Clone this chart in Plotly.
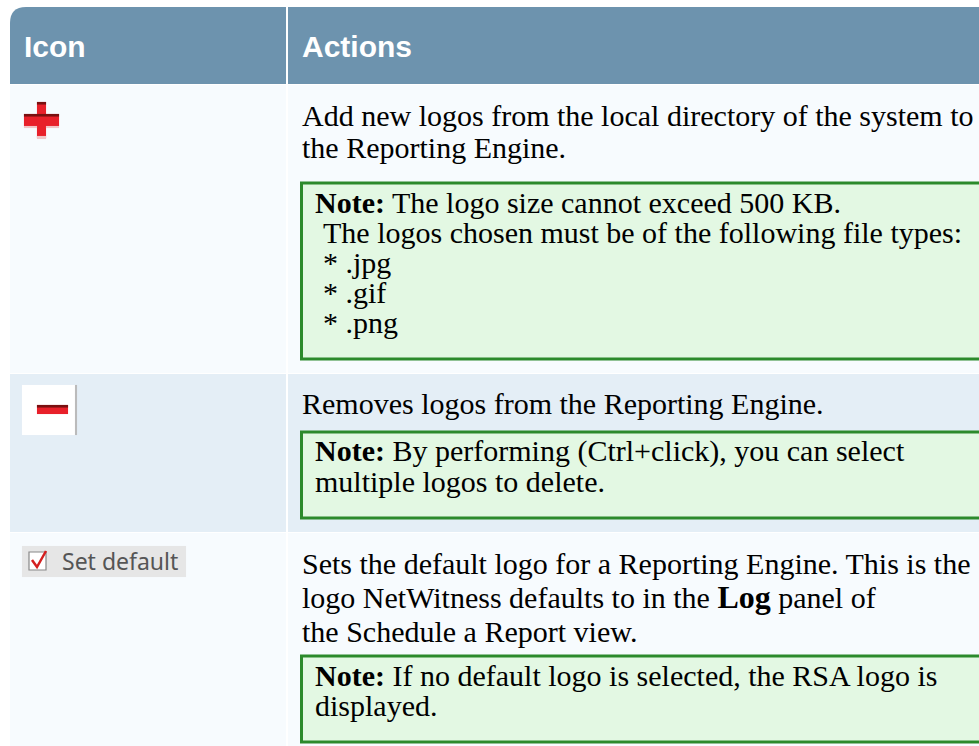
import plotly.graph_objects as go

# ---------------- content ----------------
headers = ["Icon", "Actions"]
row1_text = ["Add new logos from the local directory of the system to",
             "the Reporting Engine."]
row1_note = ["<b>Note:</b> The logo size cannot exceed 500 KB.",
             "The logos chosen must be of the following file types:",
             "* .jpg", "* .gif", "* .png"]
row2_text = ["Removes logos from the Reporting Engine."]
row2_note = ["<b>Note:</b> By performing (Ctrl+click), you can select",
             "multiple logos to delete."]
row3_text = ["Sets the default logo for a Reporting Engine. This is the",
             "logo NetWitness defaults to in the <span style='font-size:32px'><b>Log</b></span> panel of",
             "the Schedule a Report view."]
row3_note = ["<b>Note:</b> If no default logo is selected, the RSA logo is",
             "displayed."]
icon3_label = "Set default"

# ---------------- style ----------------
W, H = 979, 746
HEAD = "#6D93AE"
ROW_LIGHT = "#F7FBFE"
ROW_BLUE = "#E4EEF6"
NOTE_FILL = "#E3F8E3"
NOTE_LINE = "#2C8A2C"
SERIF = "Liberation Serif, Times New Roman, serif"
SANS = "Liberation Sans, Arial, sans-serif"
FS = 30

shapes = []
ann = []

def rect(x0, y0, x1, y1, fill, line=None, lw=0):
    shapes.append(dict(type="rect", xref="x", yref="y", x0=x0, y0=y0, x1=x1, y1=y1,
                       fillcolor=fill, line=dict(color=line or fill, width=lw),
                       layer="below" if line is None else "above"))

def text(x, baseline, s, size=FS, color="#000000", family=SERIF):
    ann.append(dict(x=x, y=baseline - 0.33 * size, xref="x", yref="y", text=s,
                    showarrow=False, xanchor="left", yanchor="middle",
                    font=dict(family=family, size=size, color=color)))

# header with rounded top-left corner
r = 16
shapes.append(dict(type="path", xref="x", yref="y",
                   path=f"M 10 {7+r} Q 10 7 {10+r} 7 L 990 7 L 990 84 L 10 84 Z",
                   fillcolor=HEAD, line=dict(width=0), layer="below"))
# row backgrounds
rect(10, 85, 990, 373, ROW_LIGHT)
rect(10, 374, 990, 532, ROW_BLUE)
rect(10, 533, 990, 760, ROW_LIGHT)
# column divider
rect(286, 7, 288, 760, "white")

# header text
for hx, h in zip([22, 300], headers):
    ann.append(dict(x=hx, y=46, xref="x", yref="y", text=f"<b>{h}</b>", showarrow=False,
                    xanchor="left", yanchor="middle",
                    font=dict(family=SANS, size=30, color="white")))

NS = 30   # note line spacing

def note_box(top, lines, indents):
    bottom = top + 29 + NS * (len(lines) - 1) + 27
    shapes.append(dict(type="rect", xref="x", yref="y", x0=301.5, y0=top, x1=1000, y1=bottom,
                       fillcolor=NOTE_FILL, line=dict(color=NOTE_LINE, width=3), layer="above"))
    for i, (s, ind) in enumerate(zip(lines, indents)):
        text(313 + ind, top + 29 + NS * i, s)

# row 1
for i, s in enumerate(row1_text):
    text(300, 125 + 32 * i, s)
note_box(183, row1_note, [0, 8, 8, 8, 8])
# row 2
for i, s in enumerate(row2_text):
    text(300, 413 + 32 * i, s)
note_box(432, row2_note, [0, 0])
# row 3
for i, s in enumerate(row3_text):
    text(300, 573 + 34 * i, s)
note_box(656, row3_note, [0, 0])

# ---- icons ----
# plus
rect(24, 114, 59, 126, "#E8202A", "#E8202A", 0.1)
rect(37, 102, 46, 138, "#E8202A", "#E8202A", 0.1)
rect(24, 114, 59, 116.5, "#7A1010", "#7A1010", 0.1)
rect(37, 102, 46, 104.5, "#7A1010", "#7A1010", 0.1)
rect(37, 136, 46, 139, "#F2C6C8", "#F2C6C8", 0.1)
rect(24, 126, 37, 128, "#F2C6C8", "#F2C6C8", 0.1)
rect(46, 126, 59, 128, "#F2C6C8", "#F2C6C8", 0.1)
# minus
rect(22, 385, 76, 435, "white", "white", 0.1)
rect(75, 385, 77, 435, "#BBBBBB", "#BBBBBB", 0.1)
rect(37, 405, 68, 414, "#E8202A", "#E8202A", 0.1)
rect(37, 405, 68, 407.5, "#7A1010", "#7A1010", 0.1)
# set default
rect(22, 546, 186, 577, "#E6E6E6", "#E6E6E6", 0.1)
rect(29, 552, 46, 570, "white", "#888888", 1.2)
shapes.append(dict(type="path", xref="x", yref="y",
                   path="M 32 560 L 37 567 L 46 551", line=dict(color="#D42020", width=2.5)))
ann.append(dict(x=60, y=561, xref="x", yref="y", text=icon3_label, showarrow=False,
                xanchor="left", yanchor="middle",
                font=dict(family="Noto Sans, sans-serif", size=23, color="#555555")))

fig = go.Figure()
fig.update_layout(
    width=W, height=H, margin=dict(l=0, r=0, t=0, b=0),
    paper_bgcolor="white", plot_bgcolor="white",
    xaxis=dict(range=[0, W], visible=False, fixedrange=True),
    yaxis=dict(range=[H, 0], visible=False, fixedrange=True),
    shapes=shapes, annotations=ann, showlegend=False,
)
fig.write_html("out.html", config={"displayModeBar": False},
               post_script="document.body.style.margin='0';document.body.style.overflow='hidden';")
